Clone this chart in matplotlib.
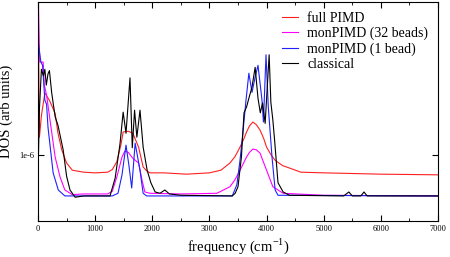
import matplotlib
matplotlib.use("Agg")
import matplotlib.pyplot as plt
from matplotlib.ticker import MultipleLocator, FixedLocator

plt.rcParams['font.family'] = ['Liberation Serif', 'DejaVu Serif']
plt.rcParams['mathtext.fontset'] = 'custom'
plt.rcParams['mathtext.rm'] = 'Liberation Serif'

# DOS values in units of 1e-6
full_f = [0, 25, 60, 120, 200, 300, 350, 415, 500, 600, 800, 1000, 1220, 1300, 1380, 1450, 1490,
          1580, 1660, 1760, 1840, 1900, 1960, 2200, 2600, 3000, 3200, 3360, 3450, 3535, 3600,
          3650, 3700, 3760, 3820, 3885, 3950, 4000, 4080, 4150, 4280, 4410, 4600, 5000,
          6000, 7000]
full_v = [3.6, 1.27, 1.6, 1.94, 1.83, 1.63, 1.33, 1.08, 0.88, 0.77, 0.74, 0.73, 0.74, 0.78, 0.90, 1.15, 1.35,
          1.36, 1.33, 1.12, 0.82, 0.76, 0.73, 0.73, 0.71, 0.73, 0.77, 0.88, 0.98, 1.12, 1.24,
          1.35, 1.44, 1.50, 1.46, 1.38, 1.25, 1.12, 1.00, 0.92, 0.84, 0.80, 0.74, 0.73,
          0.71, 0.70]

mon32_f = [0, 30, 90, 110, 150, 210, 300, 385, 470, 600, 800, 1220, 1300, 1380, 1470, 1520,
           1580, 1660, 1760, 1820, 1870, 1960, 2500, 3130, 3360, 3450, 3535, 3650, 3700, 3760,
           3820, 3885, 4000, 4110, 4290, 5000, 7000]
mon32_v = [3.6, 2.41, 2.41, 2.06, 1.91, 1.53, 0.97, 0.67, 0.47, 0.40, 0.41, 0.41, 0.45, 0.67, 0.97, 1.06,
           1.04, 0.95, 0.88, 0.62, 0.44, 0.42, 0.41, 0.42, 0.52, 0.63, 0.77, 0.97, 1.04, 1.09,
           1.08, 1.03, 0.77, 0.52, 0.42, 0.39, 0.38]

mon1_f = [0, 50, 80, 120, 150, 175, 265, 355, 470, 1300, 1400, 1470, 1540, 1590, 1640, 1700,
          1785, 1840, 1900, 3400, 3480, 3535, 3590, 3640, 3690, 3745, 3800, 3850, 3920,
          3945, 3990, 4030, 4095, 4150, 4200, 7000]
mon1_v = [2.74, 2.41, 2.36, 1.83, 1.77, 1.42, 0.73, 0.47, 0.38, 0.38, 0.42, 0.70, 1.15, 0.85, 0.50, 1.18,
          0.77, 0.42, 0.38, 0.38, 0.55, 0.92, 1.38, 1.83, 2.24, 1.95, 2.18, 2.36, 1.83,
          1.50, 2.52, 1.73, 0.97, 0.47, 0.39, 0.38]

class_f = [0, 25, 60, 95, 120, 145, 175, 200, 240, 300, 350, 440, 500, 560, 650, 800, 1260,
           1350, 1435, 1490, 1540, 1610, 1650, 1690, 1730, 1785, 1840, 1910, 1975, 2050,
           2135, 2220, 2300, 2500, 3400, 3450, 3500, 3560, 3605, 3650, 3690, 3745, 3800,
           3850, 3890, 3930, 3975, 4045, 4075, 4110, 4140, 4200, 4290, 4400, 5350, 5440,
           5500, 5650, 5705, 5760, 7000]
class_v = [0.67, 1.70, 2.30, 2.20, 2.30, 2.06, 2.23, 2.28, 1.94, 1.58, 1.45, 1.08, 0.68, 0.47, 0.36, 0.38, 0.38,
           0.65, 1.17, 1.65, 1.33, 2.17, 1.11, 1.68, 1.27, 1.68, 1.12, 0.77, 0.58, 0.44,
           0.42, 0.47, 0.41, 0.39, 0.38, 0.42, 0.52, 0.97, 1.64, 1.73, 1.86, 2.03, 2.33,
           1.86, 1.64, 1.79, 1.48, 2.52, 1.80, 1.53, 1.23, 0.58, 0.44, 0.39, 0.38, 0.44,
           0.38, 0.38, 0.44, 0.38, 0.38]

labels = ["full PIMD", "monPIMD (32 beads)", "monPIMD (1 bead)", "classical"]
colors = ["#ff2020", "#ff00ff", "#2020ff", "black"]

fig = plt.figure(figsize=(4.5, 2.57), dpi=100)
ax = fig.add_axes([38/450, 36/257, 400/450, 219/257])

series = [(full_f, full_v), (mon32_f, mon32_v), (mon1_f, mon1_v), (class_f, class_v)]
for (f, v), lab, c in zip(series, labels, colors):
    ax.plot(f, [x*1e-6 for x in v], color=c, lw=0.8, label=lab)

ax.set_xlim(0, 7000)
ax.set_ylim(0, 3.32e-6)
ax.xaxis.set_major_locator(MultipleLocator(1000))
ax.xaxis.set_minor_locator(MultipleLocator(500))
ax.yaxis.set_major_locator(FixedLocator([1e-6]))
ax.set_yticklabels(["1e-6"])
ax.tick_params(which='both', direction='in', top=True, right=True, labelsize=6, pad=3)
ax.tick_params(which='major', length=4)
ax.tick_params(which='minor', length=2)

ax.set_xlabel(r"frequency (cm$^{-1}$)", fontsize=10.5, labelpad=2)
ax.set_ylabel("DOS (arb units)", fontsize=10.5, labelpad=4)

ax.legend(frameon=False, fontsize=10, loc='upper right', bbox_to_anchor=(1.0, 1.0),
          handlelength=1.1, handletextpad=0.7, labelspacing=0.15, borderaxespad=0.3)

fig.savefig("out.png", dpi=100)
